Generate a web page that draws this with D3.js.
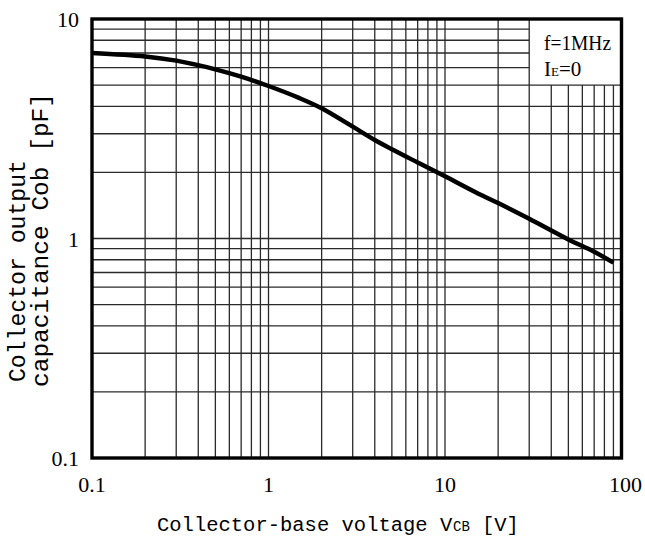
<!DOCTYPE html>
<html><head><meta charset="utf-8">
<script src="https://cdn.jsdelivr.net/npm/d3@7"></script>
<style>html,body{margin:0;padding:0;background:#fff;}svg{display:block;}</style>
</head><body>
<svg id="c" width="645" height="539"></svg>
<script>
const vcb = [0.1,0.2,0.3,0.5,0.7,1,1.5,2,3,4,5,7,10,15,20,30,50,70,90];
const cob = [7.0,6.75,6.46,5.9,5.46,4.95,4.36,3.92,3.23,2.81,2.55,2.22,1.92,1.62,1.45,1.23,0.99,0.87,0.776];
const xTickLabels = ["0.1","1","10","100"];
const yTickLabels = ["0.1","1","10"];
const xGrid = [0.2,0.3,0.4,0.5,0.6,0.7,0.8,0.9,1,2,3,4,5,6,7,8,9,10,20,30,40,50,60,70,80,90];
const yGrid = [0.2,0.3,0.4,0.5,0.6,0.7,0.8,0.9,1,2,3,4,5,6,7,8,9];
const noteLines = ["f=1MHz","IE=0"];
const xTitle = ["Collector-base voltage V","CB","[V]"];
const yTitle = ["Collector output","capacitance Cob  [pF]"];

const svg = d3.select("#c");
const L=92, R=621.5, T=19, B=458;
const x = d3.scaleLog().domain([0.1,100]).range([L,R]);
const y = d3.scaleLog().domain([0.1,10]).range([B,T]);
const boxX = 30, boxY = 5;

const g = svg.append("g");
g.selectAll("line.v").data(xGrid).join("line")
  .attr("x1",d=>x(d)).attr("x2",d=>x(d))
  .attr("y1",d=> d>boxX ? y(boxY) : T).attr("y2",B)
  .attr("stroke","#2a2a2a").attr("stroke-width",1.3);
g.selectAll("line.h").data(yGrid).join("line")
  .attr("y1",d=>y(d)).attr("y2",d=>y(d))
  .attr("x1",L).attr("x2",d=> d>boxY ? x(boxX) : R)
  .attr("stroke","#2a2a2a").attr("stroke-width",1.3);

const pts = vcb.map((v,i)=>[v,cob[i]]);
g.append("path").datum(pts)
  .attr("d", d3.line().x(d=>x(d[0])).y(d=>y(d[1])).curve(d3.curveCatmullRom.alpha(0.5)))
  .attr("fill","none").attr("stroke","#000").attr("stroke-width",4.4).attr("stroke-linecap","butt");

g.append("rect").attr("x",L).attr("y",T).attr("width",R-L).attr("height",B-T)
  .attr("fill","none").attr("stroke","#000").attr("stroke-width",3.4);

const serif = "'Liberation Serif', serif";
const mono = "'Liberation Mono', monospace";

svg.selectAll("text.yt").data(yTickLabels).join("text")
  .attr("x",79).attr("y",d=>y(+d)+8)
  .attr("text-anchor","end").attr("font-family",serif).attr("font-size",22)
  .text(d=>d);
svg.selectAll("text.xt").data(xTickLabels).join("text")
  .attr("x",d=>x(+d)+ (d==="100"?4:0)).attr("y",492)
  .attr("text-anchor","middle").attr("font-family",serif).attr("font-size",22)
  .text(d=>d);

svg.append("text").attr("x",544).attr("y",50).attr("font-family",serif).attr("font-size",21)
  .attr("textLength",67).attr("lengthAdjust","spacingAndGlyphs").text(noteLines[0]);
const n2 = svg.append("text").attr("x",544).attr("y",76).attr("font-family",serif).attr("font-size",21);
n2.append("tspan").text(noteLines[1].slice(0,1));
n2.append("tspan").attr("font-size",13).text(noteLines[1].slice(1,2));
n2.append("tspan").text(noteLines[1].slice(2));

// x title as three adjacent pieces
const xtParts = [
  {t:xTitle[0], x:157, fs:20.5},
  {t:xTitle[1], x:453, fs:14},
  {t:xTitle[2], x:482, fs:20.5}
];
svg.selectAll("text.xtt").data(xtParts).join("text")
  .attr("x",d=>d.x).attr("y",531)
  .attr("font-family",mono).attr("font-size",d=>d.fs)
  .text(d=>d.t);

const ytPos = [{bx:25,y0:382,w:222},{bx:48,y0:387,w:294}];
svg.selectAll("text.ytt").data(yTitle).join("text")
  .attr("transform",(d,i)=>`translate(${ytPos[i].bx},${ytPos[i].y0}) rotate(-90)`)
  .attr("font-family",mono).attr("font-size",24)
  .attr("textLength",(d,i)=>ytPos[i].w).attr("lengthAdjust","spacingAndGlyphs")
  .text(d=>d);
</script>
</body></html>
